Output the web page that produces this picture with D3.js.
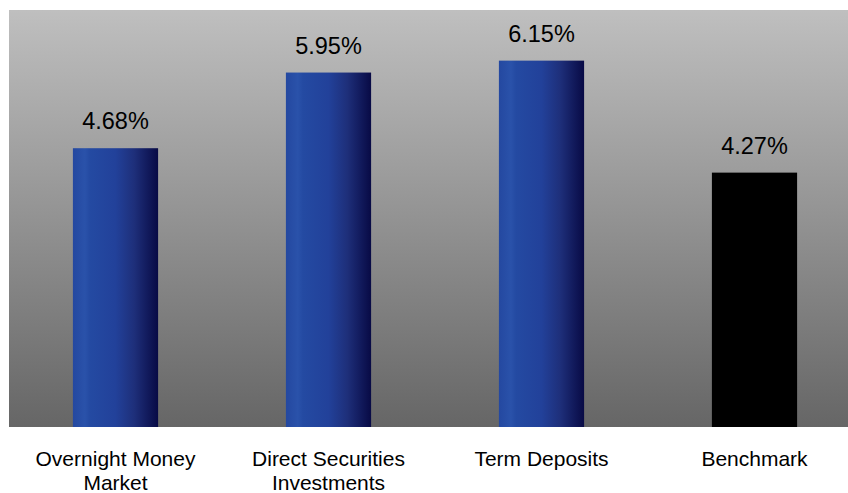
<!DOCTYPE html>
<html><head><meta charset="utf-8">
<script src="https://cdn.jsdelivr.net/npm/d3@7"></script>
<style>body{margin:0;background:#fff}svg{display:block}</style>
</head><body>
<script>
const categories = [["Overnight Money","Market"],["Direct Securities","Investments"],["Term Deposits"],["Benchmark"]];
const values = [4.68, 5.95, 6.15, 4.27];
const isBenchmark = [false, false, false, true];

const W = 848, H = 493;
const plot = {left: 9, top: 10, right: 848, bottom: 427};
const svg = d3.select("body").append("svg").attr("width", W).attr("height", H);
const defs = svg.append("defs");

const bg = defs.append("linearGradient").attr("id","bg").attr("x1",0).attr("y1",0).attr("x2",0).attr("y2",1);
bg.append("stop").attr("offset","0%").attr("stop-color","#bfbfbf");
bg.append("stop").attr("offset","100%").attr("stop-color","#666666");

const bar = defs.append("linearGradient").attr("id","bar").attr("x1",0).attr("y1",0).attr("x2",1).attr("y2",0);
[["0%","#2448a0"],["14%","#2a52aa"],["20%","#244aa2"],["50%","#22419a"],["72%","#1e2f7a"],["100%","#080a45"]]
  .forEach(([o,c]) => bar.append("stop").attr("offset",o).attr("stop-color",c));

svg.append("rect").attr("x",plot.left).attr("y",plot.top)
  .attr("width",plot.right-plot.left).attr("height",plot.bottom-plot.top).attr("fill","url(#bg)");

const x = d3.scaleBand().domain(d3.range(values.length)).range([9, 861]).paddingInner(0.6).paddingOuter(0.3);
const y = d3.scaleLinear().domain([0, 7]).range([plot.bottom, plot.top]);

svg.selectAll("rect.bar").data(values).join("rect").attr("class","bar")
  .attr("x",(d,i)=>x(i)).attr("y",d=>y(d)).attr("width",x.bandwidth())
  .attr("height",d=>y(0)-y(d))
  .attr("fill",(d,i)=>isBenchmark[i] ? "#000" : "url(#bar)");

svg.selectAll("text.val").data(values).join("text").attr("class","val")
  .attr("x",(d,i)=>x(i)+x.bandwidth()/2).attr("y",d=>y(d)-19)
  .attr("text-anchor","middle").attr("font-family","Liberation Sans, Arial, sans-serif")
  .attr("font-size",23.5).attr("fill","#000")
  .text(d=>d.toFixed(2)+"%");

const cat = svg.selectAll("text.cat").data(categories).join("text").attr("class","cat")
  .attr("text-anchor","middle").attr("font-family","Liberation Sans, Arial, sans-serif")
  .attr("font-size",21).attr("fill","#000");
cat.each(function(lines,i){
  const t = d3.select(this);
  lines.forEach((l,j)=>t.append("tspan").attr("x",x(i)+x.bandwidth()/2).attr("y",466+j*24).text(l));
});
</script>
</body></html>
